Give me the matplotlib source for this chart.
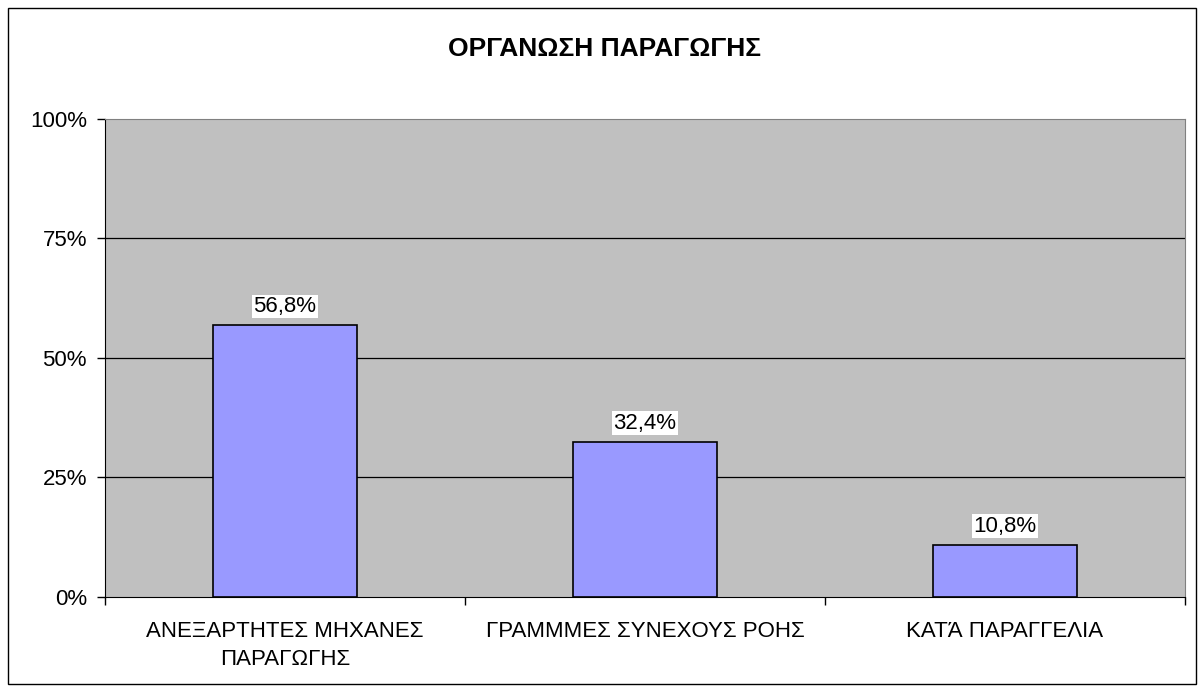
import numpy as np
import matplotlib.pyplot as plt
from matplotlib.patches import Rectangle

plt.rcParams['font.family'] = ['Liberation Sans', 'DejaVu Sans']

categories = ["ΑΝΕΞΑΡΤΗΤΕΣ ΜΗΧΑΝΕΣ\nΠΑΡΑΓΩΓΗΣ", "ΓΡΑΜΜΜΕΣ ΣΥΝΕΧΟΥΣ ΡΟΗΣ", "ΚΑΤΆ ΠΑΡΑΓΓΕΛΙΑ"]
values = [56.8, 32.4, 10.8]
value_labels = ["56,8%", "32,4%", "10,8%"]
yticks = [0, 25, 50, 75, 100]

fig = plt.figure(figsize=(12, 6.87), dpi=100)
ax = fig.add_axes([0.0875, 0.131, 0.9, 0.6958])

# outer chart frame
fig.patches.append(Rectangle((0.007, 0.004), 0.99, 0.984, transform=fig.transFigure,
                             fill=False, edgecolor="black", lw=1))

x = np.arange(len(values))
ax.set_facecolor("#c0c0c0")
ax.bar(x, values, width=0.4, color="#9999ff", edgecolor="black", lw=1.2, zorder=3)
ax.set_xlim(-0.5, len(values) - 0.5)
ax.set_ylim(0, 100)

ax.set_yticks(yticks)
ax.set_yticklabels([f"{t}%" for t in yticks], fontsize=16)
for t in yticks[1:-1]:
    ax.axhline(t, color="black", lw=0.9, zorder=1)

ax.set_xticks(x)
ax.set_xticklabels(categories, fontsize=16, linespacing=1.45)
ax.tick_params(axis="x", length=0, pad=17)
ax.tick_params(axis="y", length=6, width=1, color="black", pad=7)
ax.set_xticks(np.arange(-0.5, len(values)), minor=True)
ax.tick_params(axis="x", which="minor", length=6, width=1, color="black")

ax.spines["left"].set_color("black")
ax.spines["bottom"].set_color("black")
ax.spines["top"].set_color("#808080")
ax.spines["right"].set_color("#808080")

for xi, v, lab in zip(x, values, value_labels):
    ax.text(xi, v + 1.8, lab, ha="center", va="bottom", fontsize=16, zorder=4,
            bbox=dict(facecolor="white", edgecolor="none", pad=1.0))

fig.text(0.504, 0.929, "ΟΡΓΑΝΩΣΗ ΠΑΡΑΓΩΓΗΣ", ha="center", va="center",
         fontsize=19, fontweight="bold")

fig.savefig("out.png", dpi=100)
